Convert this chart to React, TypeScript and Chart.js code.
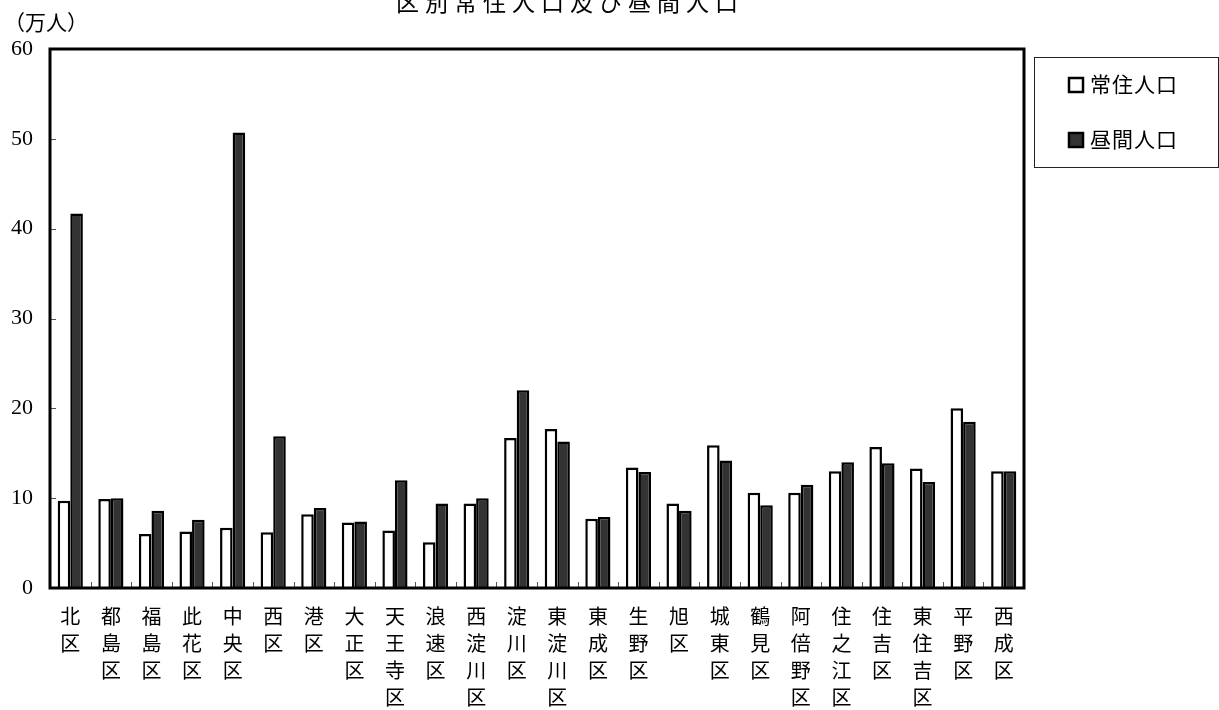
import { useEffect, useRef } from "react";
import { Chart, registerables } from "chart.js";

Chart.register(...registerables);

const categories = [
  "北区", "都島区", "福島区", "此花区", "中央区", "西区", "港区", "大正区",
  "天王寺区", "浪速区", "西淀川区", "淀川区", "東淀川区", "東成区", "生野区", "旭区",
  "城東区", "鶴見区", "阿倍野区", "住之江区", "住吉区", "東住吉区", "平野区", "西成区",
];
const residentPop = [
  9.7, 9.9, 6.0, 6.3, 6.7, 6.2, 8.2, 7.3, 6.4, 5.1, 9.4, 16.7,
  17.7, 7.7, 13.4, 9.4, 15.9, 10.6, 10.6, 13.0, 15.7, 13.3, 20.0, 13.0,
];
const daytimePop = [
  41.7, 10.0, 8.6, 7.6, 50.7, 16.9, 8.9, 7.4, 12.0, 9.4, 10.0, 22.0,
  16.3, 7.9, 12.9, 8.6, 14.2, 9.2, 11.5, 14.0, 13.9, 11.8, 18.5, 13.0,
];
const seriesLabels = ["常住人口", "昼間人口"];
const yTickValues = [0, 10, 20, 30, 40, 50, 60];
const titleText = "区別常住人口及び昼間人口";
const unitText = "（万人）";

const FONT = "'Liberation Serif', 'Noto Sans CJK JP', serif";

const decorPlugin = {
  id: "decor",
  afterDatasetsDraw(chart: any) {
    const { ctx, chartArea } = chart;
    const { left, right, top, bottom } = chartArea;
    const yScale = chart.scales.y;
    ctx.save();
    ctx.strokeStyle = "#555";
    ctx.lineWidth = 1;
    yTickValues.forEach((v) => {
      const py = Math.round(yScale.getPixelForValue(v)) + 0.5;
      ctx.beginPath();
      ctx.moveTo(left, py);
      ctx.lineTo(left + 6, py);
      ctx.stroke();
    });
    const n = categories.length;
    const w = (right - left) / n;
    for (let i = 1; i < n; i++) {
      const px = Math.round(left + i * w) + 0.5;
      ctx.beginPath();
      ctx.moveTo(px, bottom);
      ctx.lineTo(px, bottom - 6);
      ctx.stroke();
    }
    ctx.strokeStyle = "#000";
    ctx.lineWidth = 3;
    ctx.strokeRect(left, top, right - left, bottom - top);
    ctx.restore();
  },
  afterDraw(chart: any) {
    const { ctx } = chart;
    ctx.save();
    ctx.fillStyle = "#000";
    ctx.font = `23px ${FONT}`;
    (ctx as any).letterSpacing = "6px";
    ctx.textAlign = "center";
    ctx.textBaseline = "middle";
    ctx.fillText(titleText, 570, 5);
    (ctx as any).letterSpacing = "0px";
    ctx.font = `21px ${FONT}`;
    ctx.textAlign = "left";
    ctx.fillText(unitText, 4, 24);
    ctx.strokeStyle = "#222";
    ctx.lineWidth = 1;
    ctx.strokeRect(1034.5, 57.5, 184, 110);
    const ds = chart.data.datasets;
    const rows = [85, 140];
    ds.forEach((d: any, i: number) => {
      const cy = rows[i];
      ctx.fillStyle = d.backgroundColor;
      ctx.fillRect(1069, cy - 7, 14, 14);
      ctx.strokeStyle = "#000";
      ctx.lineWidth = 2.5;
      ctx.strokeRect(1069, cy - 7, 14, 14);
      ctx.fillStyle = "#000";
      ctx.font = `21px ${FONT}`;
      (ctx as any).letterSpacing = "1px";
      ctx.textAlign = "left";
      ctx.textBaseline = "middle";
      ctx.fillText(d.label, 1090, cy + 1);
      (ctx as any).letterSpacing = "0px";
    });
    ctx.restore();
  },
};

export default function App() {
  const ref = useRef<HTMLCanvasElement | null>(null);
  useEffect(() => {
    if (!ref.current) return;
    const chart = new Chart(ref.current, {
      type: "bar",
      data: {
        labels: categories.map((c) => c.split("")),
        datasets: [
          {
            label: seriesLabels[0],
            data: residentPop,
            backgroundColor: "#ffffff",
            borderColor: "#000000",
            borderWidth: 2.5,
            categoryPercentage: 0.62,
            barPercentage: 1.0,
          },
          {
            label: seriesLabels[1],
            data: daytimePop,
            backgroundColor: "#333333",
            borderColor: "#000000",
            borderWidth: 2.5,
            categoryPercentage: 0.62,
            barPercentage: 1.0,
          },
        ],
      },
      options: {
        responsive: false,
        animation: false,
        events: [],
        layout: { padding: { top: 49, right: 195, left: 0, bottom: 0 } },
        plugins: {
          legend: { display: false },
          title: { display: false },
          tooltip: { enabled: false },
        },
        scales: {
          x: {
            grid: { display: false, drawTicks: false },
            border: { display: false },
            ticks: {
              color: "#000",
              font: { family: FONT, size: 20, lineHeight: 1.35 },
              padding: 17,
              maxRotation: 0,
              autoSkip: false,
            },
            afterFit: (s: any) => {
              s.height = 122;
            },
          },
          y: {
            min: 0,
            max: 60,
            grid: { display: false, drawTicks: false },
            border: { display: false },
            ticks: {
              stepSize: 10,
              color: "#000",
              font: { family: FONT, size: 22 },
              padding: 17,
            },
            afterFit: (s: any) => {
              s.width = 50;
            },
          },
        },
      },
      plugins: [decorPlugin],
    });
    return () => chart.destroy();
  }, []);
  return (
    <div style={{ position: "fixed", left: 0, top: 0, width: 1219, height: 710, background: "#fff" }}>
      <canvas ref={ref} width={1219} height={710} style={{ width: 1219, height: 710, display: "block" }} />
    </div>
  );
}
